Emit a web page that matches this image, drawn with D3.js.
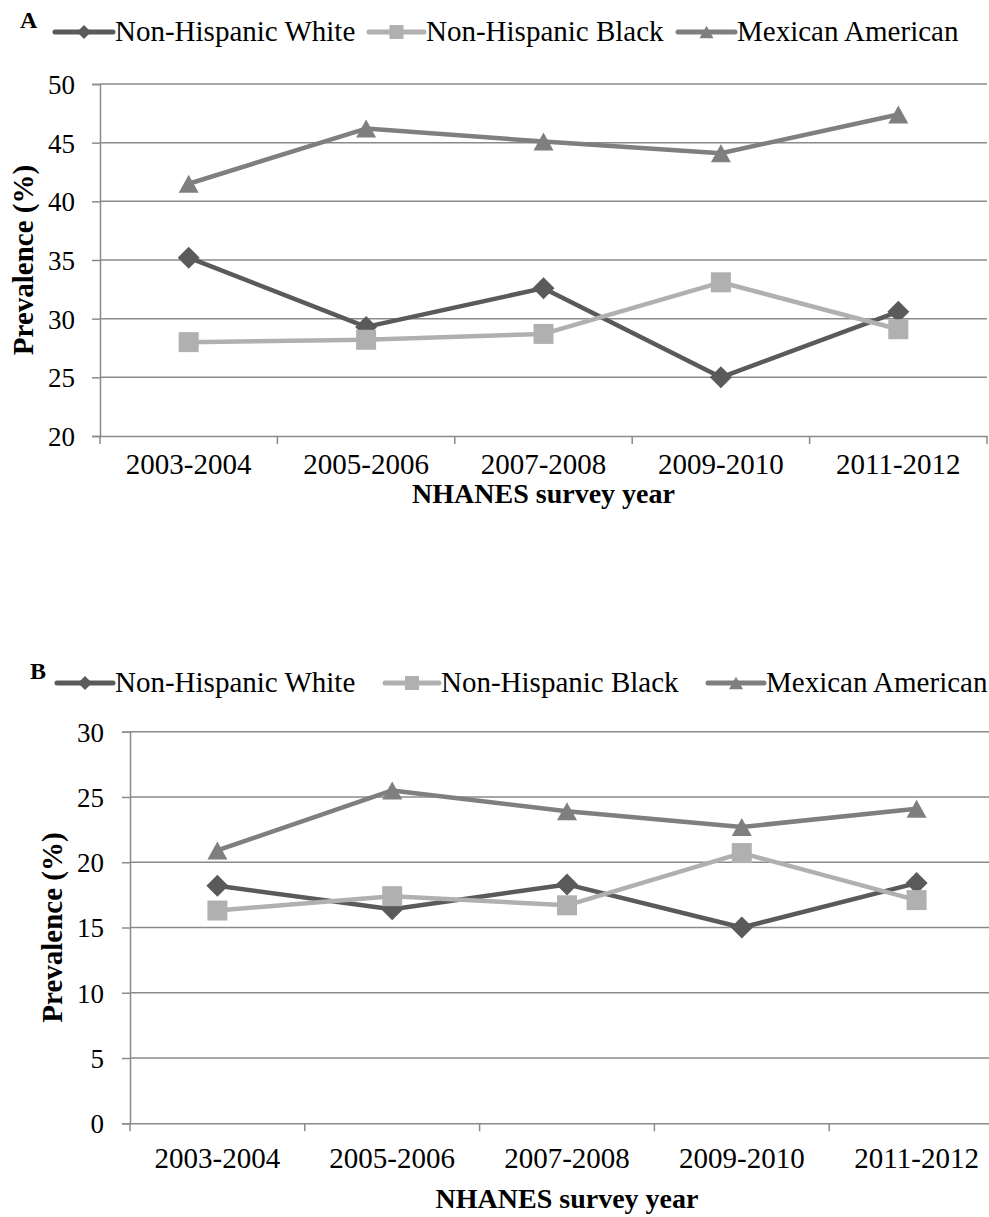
<!doctype html>
<html>
<head>
<style>
    body { margin: 0; background: #fff; }
</style>
<script src="https://d3js.org/d3.v7.min.js"></script>
</head>
<body>

    <svg id="chart" width="989" height="1217"></svg>

    <script>

        // Data
        var years = ["2003-2004", "2005-2006", "2007-2008", "2009-2010", "2011-2012"];
        var seriesNames = ["Non-Hispanic White", "Non-Hispanic Black", "Mexican American"];

        // Panel A
        var whiteA = [35.2, 29.3, 32.6, 25.0, 30.6];
        var blackA = [28.0, 28.2, 28.7, 33.1, 29.1];
        var mexA   = [41.5, 46.2, 45.1, 44.1, 47.4];
        var ticksA = [20, 25, 30, 35, 40, 45, 50];

        // Panel B
        var whiteB = [18.2, 16.4, 18.3, 15.0, 18.4];
        var blackB = [16.3, 17.4, 16.7, 20.7, 17.1];
        var mexB   = [20.9, 25.5, 23.9, 22.7, 24.1];
        var ticksB = [0, 5, 10, 15, 20, 25, 30];

        var colors = ["#5a5a5a", "#b0b0b0", "#7f7f7f"];
        var shapes = ["diamond", "square", "triangle"];
        var gridColor = "#8a8a8a";
        var serif = "'Liberation Serif', 'Times New Roman', Times, serif";

        var svg = d3.select("#chart").style("font-family", serif);

        // marker path centred on its bounding box
        function markerPath(shape, s) {
          if (shape === "diamond") {
            return "M0," + (-s / 2) + "L" + (s / 2) + ",0L0," + (s / 2) + "L" + (-s / 2) + ",0Z";
          }
          if (shape === "square") {
            return "M" + (-s / 2) + "," + (-s / 2) + "h" + s + "v" + s + "h" + (-s) + "Z";
          }
          var h = s * 0.9;
          return "M0," + (-h / 2) + "L" + (s / 2) + "," + (h / 2) + "L" + (-s / 2) + "," + (h / 2) + "Z";
        }

        function drawPanel(p) {
          var g = svg.append("g");

          var x = d3.scaleBand().domain(years).range([p.left, p.right]);
          var y = d3.scaleLinear().domain([p.ticks[0], p.ticks[p.ticks.length - 1]]).range([p.bottom, p.top]);

          // y axis
          var yAxis = g.append("g")
            .attr("transform", "translate(" + p.left + ",0)")
            .call(d3.axisLeft(y).tickValues(p.ticks).tickSize(8).tickPadding(p.yPad).tickFormat(d3.format("d")));
          yAxis.attr("font-family", null);
          yAxis.select(".domain").attr("stroke", gridColor).attr("stroke-width", 1.5);
          yAxis.selectAll(".tick line").attr("stroke", gridColor).attr("stroke-width", 1.5);
          yAxis.selectAll(".tick text")
            .style("font-family", serif)
            .style("font-size", "27px")
            .attr("fill", "#000")
            .attr("dy", "0.35em");

          // horizontal gridlines
          g.append("g")
            .selectAll("line")
            .data(p.ticks.slice(1))
            .enter()
            .append("line")
              .attr("x1", p.left).attr("x2", p.right)
              .attr("y1", function (d) { return y(d); })
              .attr("y2", function (d) { return y(d); })
              .attr("stroke", gridColor)
              .attr("stroke-width", 1.5);

          // x axis, ticks sit between categories
          var xAxis = g.append("g")
            .attr("transform", "translate(0," + p.bottom + ")")
            .call(d3.axisBottom(x).tickSize(0).tickPadding(p.xPad));
          xAxis.attr("font-family", null);
          xAxis.select(".domain").attr("stroke", gridColor).attr("stroke-width", 1.5);
          xAxis.selectAll(".tick text")
            .style("font-family", serif)
            .style("font-size", "29px")
            .attr("fill", "#000");

          g.append("g")
            .selectAll("line")
            .data(years.concat(["end"]))
            .enter()
            .append("line")
              .attr("x1", function (d, i) { return p.left + i * x.step(); })
              .attr("x2", function (d, i) { return p.left + i * x.step(); })
              .attr("y1", p.bottom).attr("y2", p.bottom + 8)
              .attr("stroke", gridColor)
              .attr("stroke-width", 1.5);

          // series lines and markers
          var line = d3.line()
            .x(function (d, i) { return x(years[i]) + x.bandwidth() / 2; })
            .y(function (d) { return y(d); });

          p.series.forEach(function (vals, k) {
            g.append("path")
              .datum(vals)
              .attr("d", line)
              .attr("fill", "none")
              .attr("stroke", colors[k])
              .attr("stroke-width", 4.5)
              .attr("stroke-linejoin", "round");

            g.append("g")
              .selectAll("path")
              .data(vals)
              .enter()
              .append("path")
                .attr("transform", function (d, i) {
                  return "translate(" + (x(years[i]) + x.bandwidth() / 2) + "," + y(d) + ")";
                })
                .attr("d", markerPath(shapes[k], k === 0 ? 22 : 20))
                .attr("fill", colors[k]);
          });

          // axis titles
          g.append("text")
            .attr("transform", "translate(" + p.yTitleX + "," + ((p.top + p.bottom) / 2) + ") rotate(-90)")
            .attr("text-anchor", "middle")
            .style("font-family", serif)
            .style("font-size", "29px")
            .style("font-weight", "bold")
            .text("Prevalence (%)");

          g.append("text")
            .attr("x", (p.left + p.right) / 2)
            .attr("y", p.xTitleY)
            .attr("text-anchor", "middle")
            .style("font-family", serif)
            .style("font-size", "28px")
            .style("font-weight", "bold")
            .text("NHANES survey year");

          // panel letter and legend
          g.append("text")
            .attr("x", p.letterX)
            .attr("y", p.legendY - 13)
            .style("font-family", serif)
            .style("font-size", "24px")
            .style("font-weight", "bold")
            .text(p.letter);

          seriesNames.forEach(function (name, k) {
            var lx = p.legendX[k];
            var ly = p.legendY - 9;
            g.append("line")
              .attr("x1", lx[0]).attr("x2", lx[1])
              .attr("y1", ly).attr("y2", ly)
              .attr("stroke", colors[k])
              .attr("stroke-width", 5)
              .attr("stroke-linecap", "round");
            g.append("path")
              .attr("transform", "translate(" + ((lx[0] + lx[1]) / 2) + "," + ly + ")")
              .attr("d", markerPath(shapes[k], 14))
              .attr("fill", colors[k]);
            g.append("text")
              .attr("x", lx[1] + 2)
              .attr("y", p.legendY)
              .style("font-family", serif)
              .style("font-size", "29px")
              .text(name);
          });
        }

        drawPanel({
          letter: "A", letterX: 20, legendY: 41,
          legendX: [[55, 113], [369, 424], [678, 735]],
          left: 100, right: 987, top: 84, bottom: 436,
          ticks: ticksA, yPad: 17, xPad: 17, yTitleX: 33, xTitleY: 503,
          series: [whiteA, blackA, mexA]
        });

        drawPanel({
          letter: "B", letterX: 30, legendY: 692,
          legendX: [[57, 113], [385, 439], [708, 764]],
          left: 130, right: 1004, top: 731.7, bottom: 1123.3,
          ticks: ticksB, yPad: 18, xPad: 24, yTitleX: 62, xTitleY: 1208,
          series: [whiteB, blackB, mexB]
        });

    </script>

</body>
</html>
